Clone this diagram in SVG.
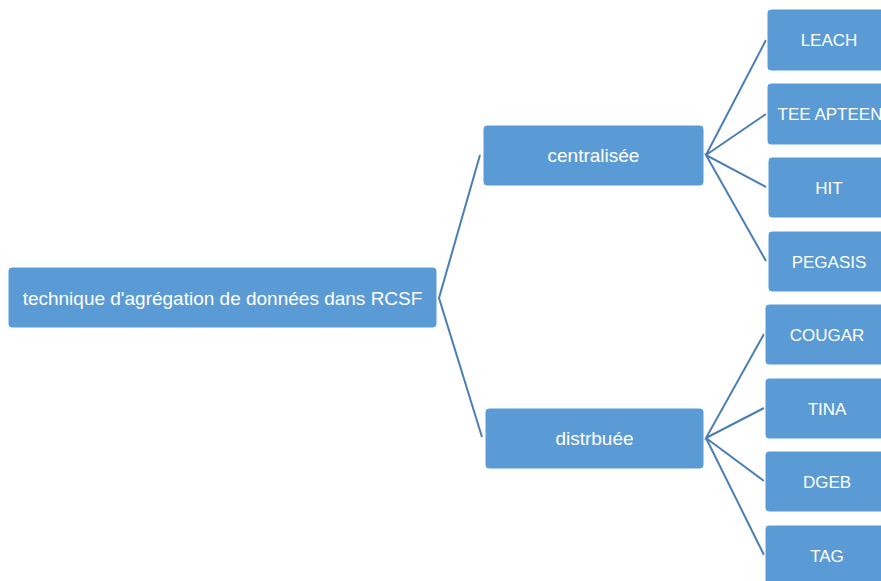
<svg xmlns="http://www.w3.org/2000/svg" width="881" height="581" viewBox="0 0 881 581">
<style>
.box{fill:#5B9BD5;stroke:#ffffff;stroke-width:1}
.t{fill:#ffffff;font-family:"Liberation Sans",Arial,sans-serif;font-size:17px;text-anchor:middle}
.mid{font-size:19px}
.c{fill:none;stroke:#4A7EB5;stroke-width:2}
</style>
<rect width="881" height="581" fill="#ffffff"/>
<g id="connectors">
<polyline class="c" points="480,155 439,298 482,437"/>
<polyline class="c" points="766,40 706,155 766,114"/>
<polyline class="c" points="766,187 706,155 766,261"/>
<polyline class="c" points="764,334 706,438 764,408"/>
<polyline class="c" points="764,481 706,438 764,555"/>
</g>
<g id="root"><rect class="box" x="8" y="267" width="429" height="61" rx="4"/><text class="t mid" x="222.5" y="304.5">technique d'agrégation de données dans RCSF</text></g>
<g id="centralisee"><rect class="box" x="483" y="125" width="221" height="61" rx="4"/><text class="t mid" x="593.5" y="162">centralisée</text></g>
<g id="distribuee"><rect class="box" x="485" y="408" width="219" height="61" rx="4"/><text class="t mid" x="594.5" y="445">distrbuée</text></g>
<g id="leach"><rect class="box" x="767" y="9" width="124" height="62" rx="4"/><text class="t" x="829" y="46">LEACH</text></g>
<g id="teeapteen"><rect class="box" x="767" y="83" width="124" height="62" rx="4"/><text class="t" x="830" y="120">TEE APTEEN</text></g>
<g id="hit"><rect class="box" x="768" y="157" width="124" height="61" rx="4"/><text class="t" x="829" y="193.5">HIT</text></g>
<g id="pegasis"><rect class="box" x="768" y="231" width="124" height="61" rx="4"/><text class="t" x="829" y="267.5">PEGASIS</text></g>
<g id="cougar"><rect class="box" x="765" y="304" width="124" height="61" rx="4"/><text class="t" x="827" y="340.5">COUGAR</text></g>
<g id="tina"><rect class="box" x="765" y="378" width="124" height="61" rx="4"/><text class="t" x="827" y="414.5">TINA</text></g>
<g id="dgeb"><rect class="box" x="765" y="451" width="124" height="61" rx="4"/><text class="t" x="827" y="487.5">DGEB</text></g>
<g id="tag"><rect class="box" x="765" y="525" width="124" height="61" rx="4"/><text class="t" x="827" y="561.5">TAG</text></g>
</svg>
